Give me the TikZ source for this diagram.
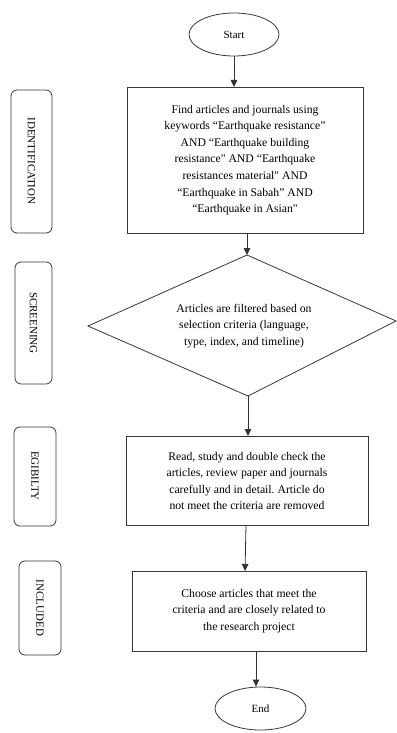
\documentclass[tikz,border=0pt]{standalone}
\usepackage{fontspec}
\setmainfont{Liberation Serif}
\usetikzlibrary{arrows.meta,shapes.geometric}
\frenchspacing
\begin{document}
\begin{tikzpicture}[x=1pt,y=-1pt,
  ln/.style={draw=black!78,line width=0.8pt},
  txt/.style={font=\fontsize{11.7}{16.6}\selectfont,align=center,inner sep=0pt},
  oval/.style={ln,ellipse,inner sep=0pt,font=\fontsize{11}{13}\selectfont},
  side/.style={ln,rounded corners=6pt},
  sidetxt/.style={font=\fontsize{11}{13}\selectfont,rotate=-90,inner sep=0pt},
  arr/.style={draw=black!80,line width=0.8pt,-{Triangle[width=6.5pt,length=7pt]}}]
\useasboundingbox (0,0) rectangle (396,733);
% Start
\node[oval,minimum width=90pt,minimum height=43pt] (start) at (234,34.5) {Start};
% Box 1
\draw[ln] (127,87) rectangle (363,233);
\coordinate (b1n) at (234,87);
\coordinate (b1s) at (247,233);
\node[txt] (t1) at (245,160) {Find articles and journals using\\keywords “Earthquake resistance”\\AND “Earthquake building\\resistance\textquotedbl{} AND “Earthquake\\resistances material\textquotedbl{} AND\\“Earthquake in Sabah” AND\\“Earthquake in Asian\textquotedbl};
% Diamond
\coordinate (dn) at (247,255);
\coordinate (dw) at (88,326);
\coordinate (de) at (396,321);
\coordinate (ds) at (248,396);
\draw[ln] (dn) -- (de) -- (ds) -- (dw) -- cycle;
\node[txt] (t2) at (244,326) {Articles are filtered based on\\selection criteria (language,\\type, index, and timeline)};
% Box 3
\draw[ln] (126,436) rectangle (368,525.5);
\coordinate (b3n) at (248,436);
\coordinate (b3s) at (246,525.5);
\node[txt] (t3) at (247,481) {Read, study and double check the\\articles, review paper and journals\\carefully and in detail. Article do\\not meet the criteria are removed};
% Box 4
\draw[ln] (132,571) rectangle (366,651);
\coordinate (b4n) at (245,571);
\coordinate (b4s) at (256,651);
\node[txt] (t4) at (249,611) {Choose articles that meet the\\criteria and are closely related to\\the research project};
% End
\node[oval,minimum width=91pt,minimum height=43pt] (end) at (260.5,708.5) {End};
% Side labels
\draw[side] (11,90) rectangle (52,233);
\node[sidetxt] (s1) at (31.5,161) {IDENTIFICATION};
\draw[side] (15,262) rectangle (52,384);
\node[sidetxt] (s2) at (33.5,323) {SCREENING};
\draw[side] (14,427) rectangle (56,526);
\node[sidetxt] (s3) at (35,476) {EGIBILTY};
\draw[side] (19,561) rectangle (61,655);
\node[sidetxt] (s4) at (40,608) {INCLUDED};
% Arrows
\draw[arr] (start.south) -- (b1n);
\draw[arr] (b1s) -- (dn);
\draw[arr] (ds) -- (b3n);
\draw[arr] (b3s) -- (b4n);
\draw[arr] (b4s) -- (b4s |- end.north);
\end{tikzpicture}
\end{document}
